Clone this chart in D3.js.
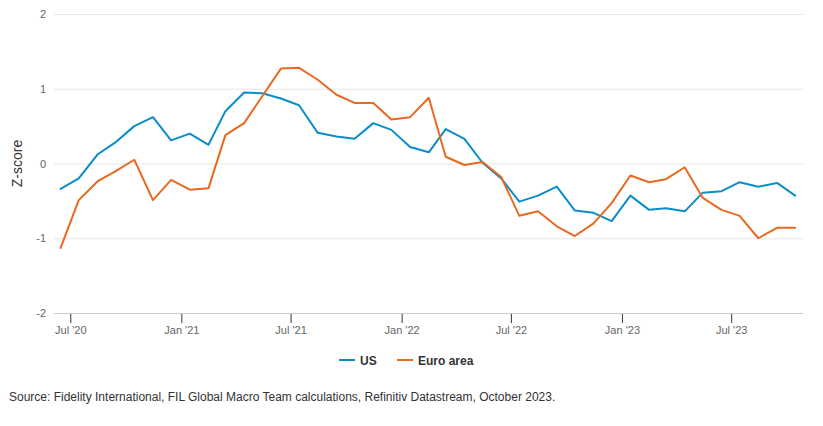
<!DOCTYPE html>
<html>
<head>
<meta charset="utf-8">
<script src="https://cdn.jsdelivr.net/npm/d3@7"></script>
<style>
  body { margin: 0; background: #fff; }
  svg { font-family: "Liberation Sans", Arial, sans-serif; }
</style>
</head>
<body>
<script>
// monthly observations, mid-month, Jun 2020 .. Oct 2023
const months = d3.timeMonth.range(new Date(2020, 5, 1), new Date(2023, 10, 1)).map(d => new Date(d.getFullYear(), d.getMonth(), 15));

const usValues = [
  -0.34, -0.20, 0.12, 0.29, 0.50, 0.62, 0.31, 0.40, 0.25, 0.70,
  0.95, 0.94, 0.87, 0.78, 0.41, 0.36, 0.33, 0.54, 0.45, 0.22,
  0.15, 0.46, 0.33, 0.01, -0.20, -0.51, -0.43, -0.31, -0.63, -0.66,
  -0.77, -0.43, -0.62, -0.60, -0.64, -0.39, -0.37, -0.25, -0.31, -0.26,
  -0.43
];

const euroValues = [
  -1.13, -0.49, -0.24, -0.10, 0.05, -0.49, -0.22, -0.35, -0.33, 0.38,
  0.54, 0.90, 1.27, 1.28, 1.12, 0.92, 0.81, 0.81, 0.59, 0.62,
  0.88, 0.09, -0.02, 0.02, -0.18, -0.70, -0.64, -0.84, -0.97, -0.80,
  -0.53, -0.16, -0.25, -0.21, -0.05, -0.46, -0.62, -0.70, -1.00, -0.86,
  -0.86
];

const seriesNames = ['US', 'Euro area'];
const seriesColors = ['#0a8dc9', '#e8691f'];
const yTicks = [-2, -1, 0, 1, 2];
const xTicks = [new Date(2020, 6, 1), new Date(2021, 0, 1), new Date(2021, 6, 1),
  new Date(2022, 0, 1), new Date(2022, 6, 1), new Date(2023, 0, 1), new Date(2023, 6, 1)];
const sourceText = 'Source: Fidelity International, FIL Global Macro Team calculations, Refinitiv Datastream, October 2023.';

const width = 823, height = 426;
const plot = {left: 54, right: 803, top: 14, bottom: 313};

const svg = d3.select('body').append('svg')
  .attr('width', width)
  .attr('height', height)
  .attr('xmlns', 'http://www.w3.org/2000/svg');

const x = d3.scaleTime()
  .domain([new Date(2020, 5, 4), new Date(2023, 9, 28)])
  .range([plot.left, plot.right]);

const y = d3.scaleLinear()
  .domain([-2, 2])
  .range([plot.bottom, plot.top]);

// gridlines
svg.append('g')
  .selectAll('line')
  .data(yTicks.filter(t => t !== -2))
  .enter()
  .append('line')
  .attr('x1', plot.left).attr('x2', plot.right)
  .attr('y1', d => y(d) + 0.5).attr('y2', d => y(d) + 0.5)
  .attr('stroke', '#e6e6e6')
  .attr('stroke-width', 1);

// y axis labels (plain hyphen for negatives, like the original)
const yAxis = d3.axisLeft(y).tickValues(yTicks).tickSize(0).tickPadding(8).tickFormat(d => String(d));
svg.append('g')
  .attr('transform', `translate(${plot.left},0)`)
  .call(yAxis)
  .call(g => g.select('.domain').remove())
  .selectAll('text')
  .attr('font-size', 11)
  .attr('fill', '#666');

svg.append('text')
  .attr('transform', `translate(22,${y(0)}) rotate(-90)`)
  .attr('text-anchor', 'middle')
  .attr('font-size', 14)
  .attr('fill', '#333')
  .text('Z-score');

// x axis
const xAxis = d3.axisBottom(x).tickValues(xTicks).tickSize(10).tickPadding(3)
  .tickFormat(d => d3.timeFormat('%b \'%y')(d));
svg.append('g')
  .attr('transform', `translate(0,${plot.bottom})`)
  .call(xAxis)
  .call(g => g.select('.domain').remove())
  .call(g => g.selectAll('.tick line').attr('stroke', '#333'))
  .selectAll('text')
  .attr('font-size', 11)
  .attr('fill', '#666');

svg.append('line')
  .attr('x1', plot.left).attr('x2', plot.right)
  .attr('y1', plot.bottom + 0.5).attr('y2', plot.bottom + 0.5)
  .attr('stroke', '#ccc');

// lines
const line = d3.line()
  .x((d, i) => x(months[i]))
  .y(d => y(d));

[usValues, euroValues].forEach((vals, i) => {
  svg.append('path')
    .datum(vals)
    .attr('d', line)
    .attr('fill', 'none')
    .attr('stroke', seriesColors[i])
    .attr('stroke-width', 2)
    .attr('stroke-linejoin', 'round')
    .attr('stroke-linecap', 'round');
});

// legend
const legendX = [339, 397];
const legend = svg.append('g').attr('transform', 'translate(0,360)');
seriesNames.forEach((name, i) => {
  legend.append('line')
    .attr('x1', legendX[i]).attr('x2', legendX[i] + 16)
    .attr('y1', 0).attr('y2', 0)
    .attr('stroke', seriesColors[i])
    .attr('stroke-width', 2);
  legend.append('text')
    .attr('x', legendX[i] + 21)
    .attr('y', 4.5)
    .attr('font-size', 12)
    .attr('font-weight', 'bold')
    .attr('fill', '#333')
    .text(name);
});

svg.append('text')
  .attr('x', 9)
  .attr('y', 401)
  .attr('font-size', 12)
  .attr('fill', '#333')
  .text(sourceText);
</script>
</body>
</html>
